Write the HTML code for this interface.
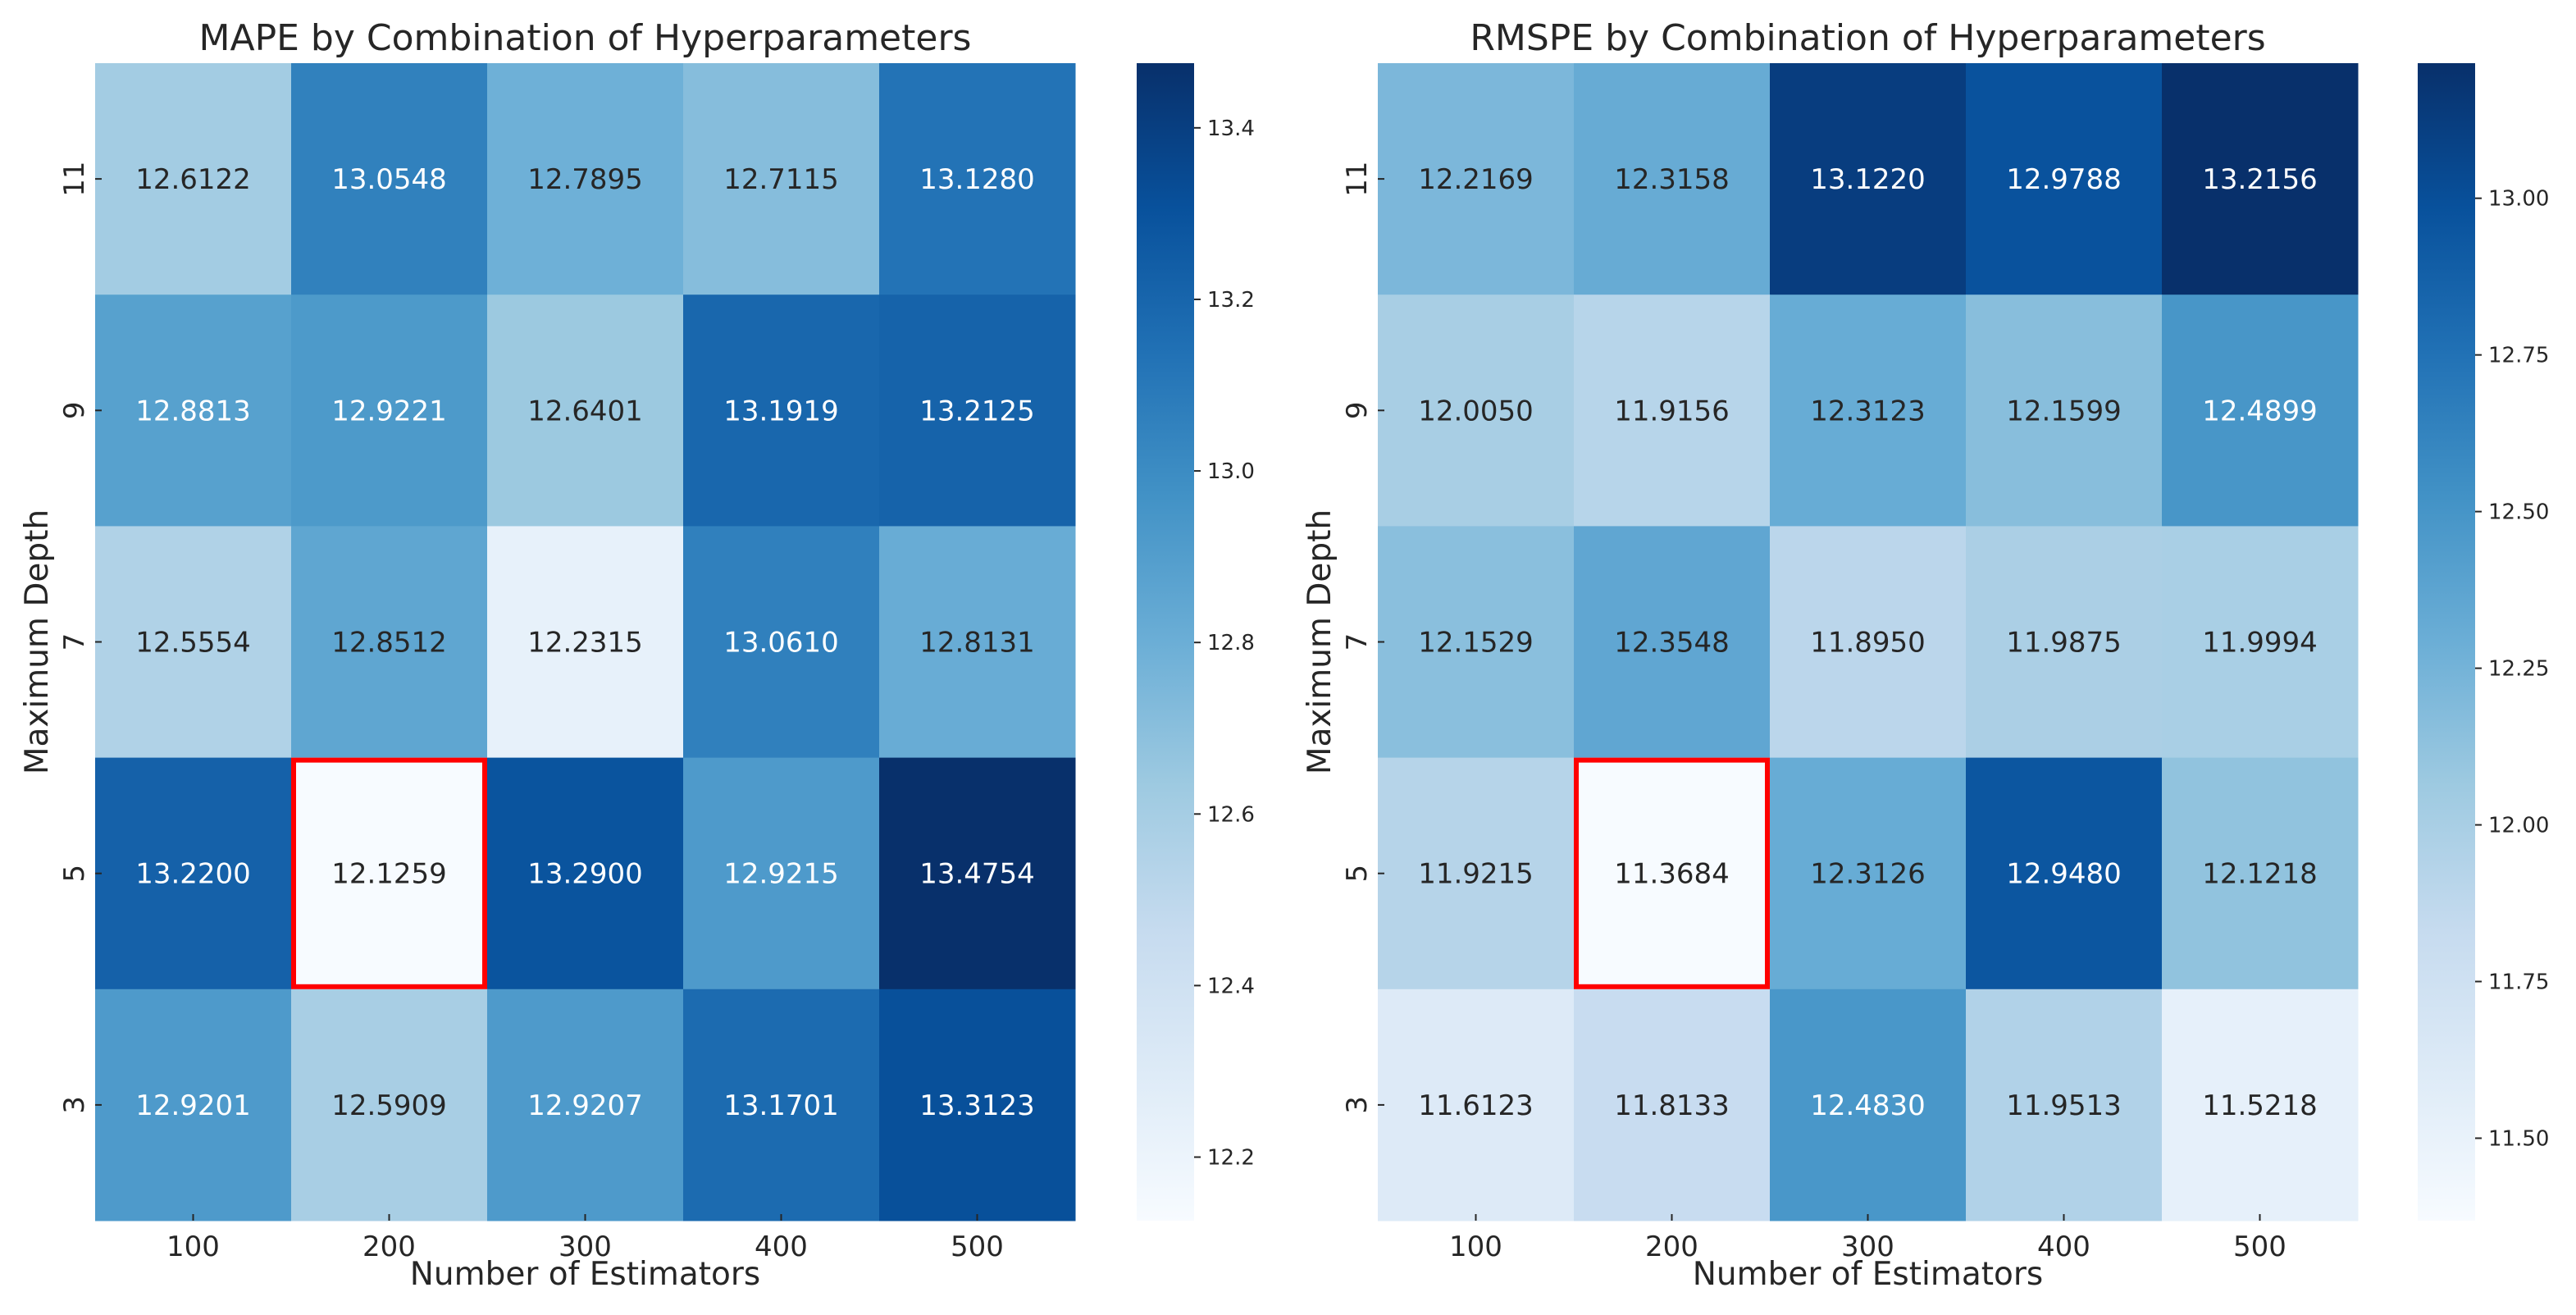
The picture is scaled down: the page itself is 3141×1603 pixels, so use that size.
<!DOCTYPE html>
<html><head><meta charset="utf-8"><style>
html,body{margin:0;padding:0;background:#fff;}
svg{display:block;font-family:"DejaVu Sans","Liberation Sans",sans-serif;}
</style></head><body>
<svg id="chart" width="3141" height="1603" viewBox="0 0 3141 1603" xmlns="http://www.w3.org/2000/svg">
<defs>
<linearGradient id="bluesGrad" x1="0" y1="1" x2="0" y2="0">
<stop offset="0" stop-color="#f7fbff"/><stop offset="0.125" stop-color="#deebf7"/><stop offset="0.25" stop-color="#c6dbef"/><stop offset="0.375" stop-color="#9ecae1"/><stop offset="0.5" stop-color="#6baed6"/><stop offset="0.625" stop-color="#4292c6"/><stop offset="0.75" stop-color="#2171b5"/><stop offset="0.875" stop-color="#08519c"/><stop offset="1" stop-color="#08306b"/>
</linearGradient>
</defs>
</svg>
<script>
const estimators = ["100","200","300","400","500"];
const depths = ["11","9","7","5","3"];
const mapeValues = [
  [12.6122,13.0548,12.7895,12.7115,13.1280],
  [12.8813,12.9221,12.6401,13.1919,13.2125],
  [12.5554,12.8512,12.2315,13.0610,12.8131],
  [13.2200,12.1259,13.2900,12.9215,13.4754],
  [12.9201,12.5909,12.9207,13.1701,13.3123]
];
const rmspeValues = [
  [12.2169,12.3158,13.1220,12.9788,13.2156],
  [12.0050,11.9156,12.3123,12.1599,12.4899],
  [12.1529,12.3548,11.8950,11.9875,11.9994],
  [11.9215,11.3684,12.3126,12.9480,12.1218],
  [11.6123,11.8133,12.4830,11.9513,11.5218]
];
const mapeTicks = [12.2,12.4,12.6,12.8,13.0,13.2,13.4];
const mapeTickLabels = ["12.2","12.4","12.6","12.8","13.0","13.2","13.4"];
const rmspeTicks = [11.5,11.75,12.0,12.25,12.5,12.75,13.0];
const rmspeTickLabels = ["11.50","11.75","12.00","12.25","12.50","12.75","13.00"];
const bestCell = {row:3,col:1};

const stops=[[247,251,255],[222,235,247],[198,219,239],[158,202,225],[107,174,214],[66,146,198],[33,113,181],[8,81,156],[8,48,107]];
function blues(t){t=Math.max(0,Math.min(1,t));const p=t*8;const i=Math.min(7,Math.floor(p));const f=p-i;
 return stops[i].map((c,k)=>Math.round(c+(stops[i+1][k]-c)*f));}
const svg=document.getElementById('chart');const NS="http://www.w3.org/2000/svg";
function mk(tag,attrs,parent,text){const e=document.createElementNS(NS,tag);for(const k in attrs)e.setAttribute(k,attrs[k]);if(text!==undefined)e.textContent=text;(parent||svg).appendChild(e);return e;}

function drawPanel(p){
  const g=mk('g',{});
  
  
  const x0=p.x0,y0=77,W=1195,H=1411,cw=W/5,ch=H/5;
  const vals=p.values.flat();const mn=Math.min(...vals),mx=Math.max(...vals);
  const xScale=c=>x0+c*cw, yScale=r=>y0+r*ch;
  p.values.forEach((row,r)=>row.forEach((v,c)=>{
    const tt=(v-mn)/(mx-mn);
    const col=blues(tt);
    const rect=mk('rect',{x:xScale(c),y:yScale(r),width:cw+0.5,height:ch+0.5,fill:`rgb(${col})`},g);
    
    
    const t=mk('text',{x:xScale(c)+cw/2,y:yScale(r)+ch/2+12,'text-anchor':'middle','font-size':34,fill:tt<0.55?'#262626':'#ffffff'},g,v.toFixed(4));
    
    
  }));
  const b=mk('rect',{x:xScale(bestCell.col)+3,y:yScale(bestCell.row)+3,width:cw-6,height:ch-6,fill:'none',stroke:'#ff0000','stroke-width':6},g);
  
  
  estimators.forEach((e,c)=>{
    const cx=xScale(c)+cw/2;
    mk('line',{x1:cx,x2:cx,y1:y0+H,y2:y0+H-8,stroke:'#262626','stroke-width':2},g);
    const t=mk('text',{x:cx,y:y0+H+43,'text-anchor':'middle','font-size':34,fill:'#262626'},g,e);
    
    
  });
  depths.forEach((d,r)=>{
    const cy=yScale(r)+ch/2;
    mk('line',{x1:x0,x2:x0+8,y1:cy,y2:cy,stroke:'#262626','stroke-width':2},g);
    const t=mk('text',{x:0,y:0,transform:`translate(${x0-14},${cy}) rotate(-90)`,'text-anchor':'middle','font-size':34,fill:'#262626'},g,d);
    
    
  });
  const xl=mk('text',{x:x0+W/2,y:1566,'text-anchor':'middle','font-size':39,fill:'#262626'},g,'Number of Estimators');
  
  
  const yl=mk('text',{x:0,y:0,transform:`translate(${x0-58},${y0+H/2}) rotate(-90)`,'text-anchor':'middle','font-size':39,fill:'#262626'},g,'Maximum Depth');
  
  
  const ti=mk('text',{x:x0+W/2,y:61,'text-anchor':'middle','font-size':44,fill:'#262626'},g,p.title);
  
  
  const cbx=p.cbx;
  const cb=mk('rect',{x:cbx,y:y0,width:70,height:H,fill:'url(#bluesGrad)'},g);
  
  
  p.ticks.forEach((tv,i)=>{
    const ty=y0+H-(tv-mn)/(mx-mn)*H;
    mk('line',{x1:cbx+70,x2:cbx+78,y1:ty,y2:ty,stroke:'#262626','stroke-width':2},g);
    const t=mk('text',{x:cbx+86,y:ty+9,'font-size':26,fill:'#262626'},g,p.tickLabels[i]);
    
    
  });
}
drawPanel({name:'mape',x0:116,cbx:1386,values:mapeValues,ticks:mapeTicks,tickLabels:mapeTickLabels,title:'MAPE by Combination of Hyperparameters'});
drawPanel({name:'rmspe',x0:1680,cbx:2948,values:rmspeValues,ticks:rmspeTicks,tickLabels:rmspeTickLabels,title:'RMSPE by Combination of Hyperparameters'});
</script>
</body></html>
